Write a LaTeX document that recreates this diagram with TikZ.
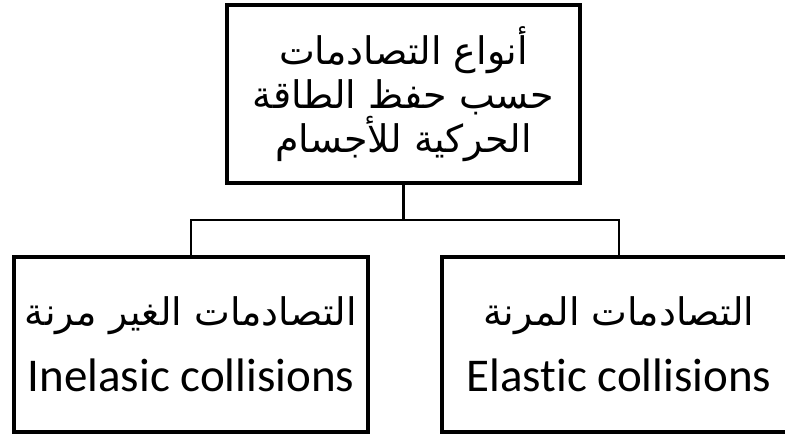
\documentclass[tikz,border=0pt]{standalone}
\usepackage{fontspec}
\setmainfont{Carlito}[Ligatures=NoCommon]
\newfontfamily\arabicfont[Script=Arabic]{DejaVu Sans}
\TeXXeTstate=1
\usetikzlibrary{positioning}

\begin{document}
\begin{tikzpicture}[x=1pt,y=1pt,
    kind/.style={draw, line width=4pt, minimum width=354pt, minimum height=175pt, inner sep=0pt, align=center},
    link/.style={line width=2.5pt},
    arab/.style={font=\arabicfont\fontsize{38}{44}\selectfont},
    pair/.style={font=\fontsize{47}{66}\selectfont}]
    \useasboundingbox (0,0) rectangle (785,434);
    \clip (0,0) rectangle (785,434);
    \node[kind, arab, minimum width=353pt, minimum height=178pt] (types) at (403.5,340)
        {\beginR أنواع التصادمات\endR\\ \beginR حسب حفظ الطاقة\endR\\ \beginR الحركية للأجسام\endR};
    \node[kind, pair] (inel) at (191,89.5)
        {{\arabicfont\fontsize{38}{66}\selectfont\beginR التصادمات الغير مرنة\endR}\\ Inelasic collisions};
    \node[kind, pair] (elas) at (619,89.5)
        {{\arabicfont\fontsize{38}{66}\selectfont\beginR التصادمات المرنة\endR}\\ Elastic collisions};
    \coordinate (split) at (403.5,214);
    \draw[link] (types.south) -- (split);
    \draw[link] (split) -| (inel.north);
    \draw[link] (split) -| (elas.north);
\end{tikzpicture}
\end{document}
